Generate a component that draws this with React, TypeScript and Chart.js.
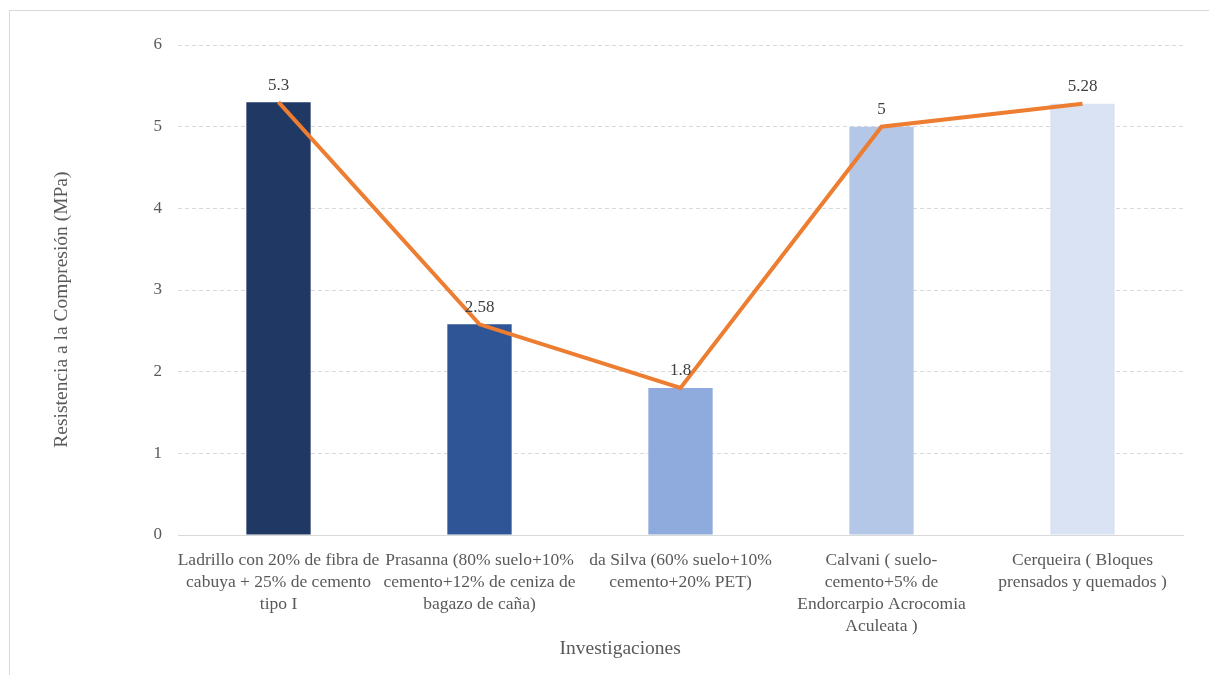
import React, { useEffect, useRef } from "react";
import { Chart, registerables } from "chart.js";

Chart.register(...registerables);

const categories: string[][] = [
  ["Ladrillo con 20% de fibra de", "cabuya + 25% de cemento", "tipo I"],
  ["Prasanna (80% suelo+10%", "cemento+12% de ceniza de", "bagazo de caña)"],
  ["da Silva (60% suelo+10%", "cemento+20% PET)"],
  ["Calvani ( suelo-", "cemento+5% de", "Endorcarpio Acrocomia", "Aculeata )"],
  ["Cerqueira ( Bloques", "prensados y quemados )"],
];
const values: number[] = [5.3, 2.58, 1.8, 5, 5.28];
const valueLabels: string[] = ["5.3", "2.58", "1.8", "5", "5.28"];
const barColors: string[] = ["#203864", "#2F5597", "#8FAADC", "#B4C7E7", "#DAE3F3"];
const lineColor = "#ED7D31";
const yTitle = "Resistencia a la Compresión (MPa)";
const xTitle = "Investigaciones";

const FONT = "'Liberation Serif', 'Times New Roman', serif";
const TEXT = "#595959";

const labelPlugin = {
  id: "valueLabels",
  afterDatasetsDraw(chart: any) {
    const meta = chart.getDatasetMeta(0);
    const ctx = chart.ctx;
    ctx.save();
    ctx.font = `17px ${FONT}`;
    ctx.fillStyle = "#404040";
    ctx.textAlign = "center";
    ctx.textBaseline = "middle";
    meta.data.forEach((el: any, i: number) => {
      ctx.fillText(valueLabels[i], el.x, el.y - 17);
    });
    ctx.restore();
  },
};

const titlePlugin = {
  id: "axisTitles",
  afterDraw(chart: any) {
    const ctx = chart.ctx;
    const area = chart.chartArea;
    ctx.save();
    ctx.font = `19.5px ${FONT}`;
    ctx.fillStyle = TEXT;
    ctx.textAlign = "center";
    ctx.textBaseline = "middle";
    // x title, centred slightly left of plot centre as in the original
    ctx.fillText(xTitle, area.left + (area.right - area.left) * 0.44, 649);
    ctx.translate(62, area.top + (area.bottom - area.top) * 0.54);
    ctx.rotate(-Math.PI / 2);
    ctx.fillText(yTitle, 0, 0);
    ctx.restore();
  },
};

export default function App() {
  const ref = useRef<HTMLCanvasElement | null>(null);
  useEffect(() => {
    if (!ref.current) return;
    const chart = new Chart(ref.current, {
      type: "bar",
      data: {
        labels: categories,
        datasets: [
          {
            type: "bar",
            data: values,
            backgroundColor: barColors,
            barPercentage: 0.32,
            categoryPercentage: 1,
            order: 1,
          },
          {
            type: "line",
            data: values,
            borderColor: lineColor,
            borderWidth: 4,
            pointRadius: 0,
            tension: 0,
            order: 0,
          } as any,
        ],
      },
      options: {
        responsive: false,
        animation: false,
        devicePixelRatio: 1,
        layout: { padding: { left: 0, top: 45, right: 26, bottom: 0 } },
        plugins: { legend: { display: false }, tooltip: { enabled: false } },
        scales: {
          x: {
            grid: { display: false, drawTicks: false },
            border: { display: true, color: "#D9D9D9", width: 1 },
            ticks: {
              autoSkip: false,
              maxRotation: 0,
              minRotation: 0,
              padding: 14,
              color: TEXT,
              font: { family: FONT, size: 17.5, lineHeight: 22 / 17.5 },
            },
            title: { display: false },
            afterFit: (s: any) => {
              s.height = 140;
            },
          },
          y: {
            min: 0,
            max: 6,
            ticks: {
              stepSize: 1,
              padding: 16,
              color: TEXT,
              font: { family: FONT, size: 17 },
            },
            grid: { color: "#D9D9D9", drawTicks: false, lineWidth: 1 },
            border: { display: false, dash: [4, 3] },
            title: { display: false },
            afterFit: (s: any) => {
              s.width = 178;
            },
          },
        },
      },
      plugins: [labelPlugin, titlePlugin],
    });
    return () => chart.destroy();
  }, []);

  return (
    <div style={{ position: "fixed", left: 0, top: 0, width: 1209, height: 675, overflow: "hidden", background: "#fff" }}>
      <div
        style={{
          position: "absolute",
          left: 9,
          top: 10,
          width: 1400,
          height: 900,
          border: "1px solid #D9D9D9",
          boxSizing: "border-box",
        }}
      />
      <canvas ref={ref} width={1209} height={675} style={{ position: "absolute", left: 0, top: 0 }} />
    </div>
  );
}
